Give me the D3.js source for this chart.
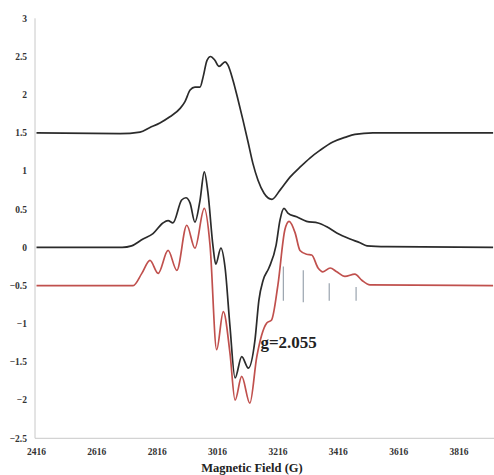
<!DOCTYPE html>
<html>
<head>
<meta charset="utf-8">
<script src="https://cdn.jsdelivr.net/npm/d3@7/dist/d3.min.js"></script>
<style>
  html, body { margin: 0; padding: 0; background: #fff; }
  svg { display: block; }
  text { font-family: "Liberation Serif", "Times New Roman", serif; font-weight: bold; }
</style>
</head>
<body>
<div id="chart"></div>
<script>
// EPR spectra (stacked), field in gauss, intensity in plotted (offset) units

// top trace, offset +1.5
const topField = [2416, 2693, 2759, 2792, 2825, 2858, 2892, 2908, 2925, 2941, 2958, 2968, 2981, 2993, 3007, 3021, 3041, 3050, 3067, 3084, 3100, 3117, 3133, 3150, 3170, 3196, 3223, 3256, 3289, 3322, 3355, 3398, 3438, 3471, 3531, 3929];
const topValue = [1.50, 1.49, 1.51, 1.57, 1.63, 1.71, 1.82, 1.91, 2.06, 2.10, 2.10, 2.23, 2.45, 2.50, 2.45, 2.37, 2.43, 2.39, 2.19, 1.93, 1.67, 1.38, 1.10, 0.88, 0.71, 0.63, 0.75, 0.92, 1.05, 1.17, 1.27, 1.38, 1.44, 1.48, 1.50, 1.50];

// middle trace (experimental derivative spectrum)
const expField = [2416, 2700, 2731, 2769, 2802, 2835, 2852, 2868, 2897, 2911, 2925, 2941, 2958, 2972, 2984, 3001, 3010, 3027, 3041, 3057, 3074, 3096, 3118, 3140, 3153, 3167, 3186, 3210, 3223, 3236, 3249, 3278, 3311, 3349, 3378, 3411, 3455, 3488, 3511, 3577, 3929];
const expValue = [0.00, 0.00, 0.02, 0.11, 0.18, 0.32, 0.35, 0.32, 0.62, 0.65, 0.58, 0.33, 0.62, 0.99, 0.72, 0.01, -0.22, -0.01, -0.27, -1.03, -1.71, -1.43, -1.58, -1.21, -0.69, -0.43, -0.27, 0.03, 0.36, 0.51, 0.45, 0.40, 0.34, 0.32, 0.27, 0.19, 0.11, 0.06, 0.02, 0.01, 0.00];

// simulated trace, offset -0.5
const simField = [2416, 2736, 2765, 2792, 2819, 2852, 2881, 2914, 2941, 2972, 2991, 3013, 3035, 3057, 3074, 3096, 3123, 3146, 3162, 3179, 3195, 3216, 3239, 3253, 3273, 3289, 3311, 3328, 3349, 3365, 3389, 3411, 3438, 3471, 3494, 3521, 3929];
const simValue = [-0.50, -0.50, -0.34, -0.17, -0.34, -0.04, -0.30, 0.29, -0.01, 0.51, 0.03, -1.34, -0.84, -1.38, -2.00, -1.69, -2.04, -1.43, -1.15, -0.99, -0.95, -0.49, 0.23, 0.34, 0.19, -0.04, -0.09, -0.10, -0.27, -0.32, -0.27, -0.32, -0.38, -0.35, -0.43, -0.49, -0.50];

// hyperfine stick markers
const stickField = [3234, 3300, 3386, 3475];
const stickTop = [-0.25, -0.30, -0.47, -0.52];
const stickBottom = [-0.70, -0.72, -0.70, -0.70];

const xTicks = [2416, 2616, 2816, 3016, 3216, 3416, 3616, 3816];
const yTicks = [-2.5, -2, -1.5, -1, -0.5, 0, 0.5, 1, 1.5, 2, 2.5, 3];

const gLabel = "g=2.055";
const gLabelField = 3158;
const gLabelValue = -1.32;
const xTitle = "Magnetic Field (G)";

const W = 494, H = 475;
const svg = d3.select("#chart").append("svg").attr("width", W).attr("height", H);

const x = d3.scaleLinear().domain([2416, 3929]).range([36.5, 493.1]);
const y = d3.scaleLinear().domain([-2.5, 3]).range([438.3, 18.3]);

// axes
const axisColor = "#c8c8c8";
svg.append("line")
  .attr("x1", x(2416) - 1.5).attr("x2", x(2416) - 1.5)
  .attr("y1", y(3)).attr("y2", y(-2.5))
  .attr("stroke", axisColor).attr("stroke-width", 1);
svg.append("line")
  .attr("x1", x(2416) - 1.5).attr("x2", W)
  .attr("y1", y(-2.5)).attr("y2", y(-2.5))
  .attr("stroke", axisColor).attr("stroke-width", 1);

svg.append("g").selectAll("text").data(yTicks).join("text")
  .attr("x", 27).attr("y", d => y(d)).attr("dy", "0.35em")
  .attr("text-anchor", "end").attr("font-size", 9.5).attr("fill", "#333")
  .text(d => d3.format("")(d));

svg.append("g").selectAll("text").data(xTicks).join("text")
  .attr("x", d => x(d)).attr("y", 452).attr("dy", "0.35em")
  .attr("text-anchor", "middle").attr("font-size", 9.5).attr("fill", "#333")
  .text(d => d);

svg.append("text")
  .attr("x", 252).attr("y", 468).attr("dy", "0.35em")
  .attr("text-anchor", "middle").attr("font-size", 12.5).attr("fill", "#222")
  .text(xTitle);

// traces
const line = d3.line().x(d => x(d[0])).y(d => y(d[1])).curve(d3.curveMonotoneX);

// stick markers
svg.append("g").selectAll("line").data(stickField).join("line")
  .attr("x1", d => x(d)).attr("x2", d => x(d))
  .attr("y1", (d, i) => y(stickTop[i])).attr("y2", (d, i) => y(stickBottom[i]))
  .attr("stroke", "#9aa4ae").attr("stroke-width", 1.2);

svg.append("path").datum(d3.zip(simField, simValue)).attr("d", line)
  .attr("fill", "none").attr("stroke", "#c0504d").attr("stroke-width", 1.7);
svg.append("path").datum(d3.zip(expField, expValue)).attr("d", line)
  .attr("fill", "none").attr("stroke", "#2b2b2b").attr("stroke-width", 1.7);
svg.append("path").datum(d3.zip(topField, topValue)).attr("d", line)
  .attr("fill", "none").attr("stroke", "#2b2b2b").attr("stroke-width", 1.7);

svg.append("text")
  .attr("x", x(gLabelField)).attr("y", y(gLabelValue))
  .attr("font-size", 17).attr("fill", "#222")
  .text(gLabel);
</script>
</body>
</html>
